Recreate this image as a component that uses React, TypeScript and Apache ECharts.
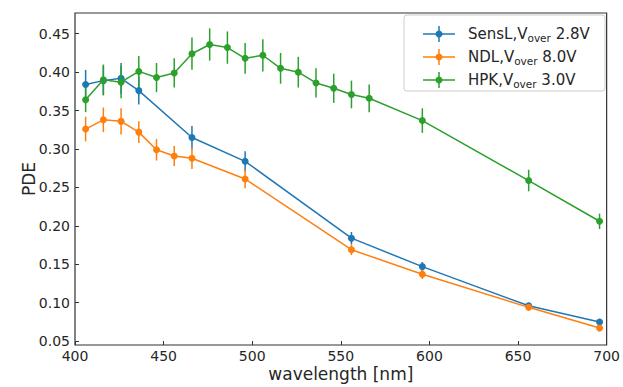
import React, { useEffect, useRef } from "react";
import * as echarts from "echarts";

const FONT = "DejaVu Sans";
const TXT = "#262626";

const xTicks = [400, 450, 500, 550, 600, 650, 700];
const yTicks = [0.05, 0.1, 0.15, 0.2, 0.25, 0.3, 0.35, 0.4, 0.45];

const wlSensL = [406, 416, 426, 436, 466, 496, 556, 596, 656, 696];
const pdeSensL = [0.384, 0.389, 0.392, 0.376, 0.315, 0.284, 0.184, 0.147, 0.096, 0.075];
const errSensL = [0.019, 0.019, 0.02, 0.018, 0.015, 0.013, 0.008, 0.006, 0.004, 0.004];

const wlNDL = [406, 416, 426, 436, 446, 456, 466, 496, 556, 596, 656, 696];
const pdeNDL = [0.326, 0.338, 0.336, 0.322, 0.299, 0.291, 0.288, 0.261, 0.169, 0.137, 0.094, 0.067];
const errNDL = [0.016, 0.016, 0.017, 0.014, 0.014, 0.013, 0.014, 0.012, 0.007, 0.006, 0.004, 0.004];

const wlHPK = [406, 416, 426, 436, 446, 456, 466, 476, 486, 496, 506, 516, 526, 536, 546, 556, 566, 596, 656, 696];
const pdeHPK = [0.364, 0.39, 0.387, 0.401, 0.393, 0.399, 0.424, 0.436, 0.432, 0.418, 0.422, 0.405, 0.4, 0.386, 0.379, 0.371, 0.366, 0.337, 0.259, 0.206];
const errHPK = [0.016, 0.02, 0.021, 0.02, 0.019, 0.019, 0.021, 0.021, 0.021, 0.02, 0.021, 0.02, 0.02, 0.019, 0.019, 0.018, 0.018, 0.016, 0.014, 0.01];

const seriesDefs = [
  { name: "SensL", sub: "over", volt: " 2.8V", label: "SensL,V", color: "#1f77b4", wl: wlSensL, pde: pdeSensL, err: errSensL },
  { name: "NDL", sub: "over", volt: " 8.0V", label: "NDL,V", color: "#ff7f0e", wl: wlNDL, pde: pdeNDL, err: errNDL },
  { name: "HPK", sub: "over", volt: " 3.0V", label: "HPK,V", color: "#2ca02c", wl: wlHPK, pde: pdeHPK, err: errHPK },
];

export default function App() {
  const ref = useRef<HTMLDivElement>(null);
  useEffect(() => {
    if (!ref.current) return;
    const chart = echarts.init(ref.current, undefined, { renderer: "svg" });
    const series: any[] = [];
    seriesDefs.forEach((s, i) => {
      series.push({
        type: "custom",
        name: s.name + "_err",
        coordinateSystem: "cartesian2d",
        z: 2 + i * 2,
        data: s.wl.map((x, k) => [x, s.pde[k], s.err[k]]),
        encode: { x: 0, y: 1 },
        renderItem: (params: any, api: any) => {
          const x = api.value(0);
          const y = api.value(1);
          const e = api.value(2);
          const p1 = api.coord([x, y - e]);
          const p2 = api.coord([x, y + e]);
          return {
            type: "line",
            shape: { x1: p1[0], y1: p1[1], x2: p2[0], y2: p2[1] },
            style: { stroke: s.color, lineWidth: 1.5 },
          };
        },
        silent: true,
      });
      series.push({
        type: "line",
        name: s.name,
        z: 3 + i * 2,
        data: s.wl.map((x, k) => [x, s.pde[k]]),
        symbol: "circle",
        symbolSize: 7,
        showSymbol: true,
        lineStyle: { color: s.color, width: 1.5 },
        itemStyle: { color: s.color },
        silent: true,
      });
    });

    const legendGraphics: any[] = [
      {
        type: "rect",
        shape: { x: 404, y: 15, width: 201, height: 76, r: 3 },
        style: { fill: "rgba(255,255,255,0.8)", stroke: "#cccccc", lineWidth: 1 },
        z: 100,
      },
    ];
    seriesDefs.forEach((s, i) => {
      const cy = 34 + i * 23;
      legendGraphics.push(
        { type: "line", shape: { x1: 423, y1: cy, x2: 455, y2: cy }, style: { stroke: s.color, lineWidth: 1.5 }, z: 101 },
        { type: "line", shape: { x1: 439, y1: cy - 8, x2: 439, y2: cy + 8 }, style: { stroke: s.color, lineWidth: 1.5 }, z: 101 },
        { type: "circle", shape: { cx: 439, cy, r: 3.5 }, style: { fill: s.color }, z: 102 },
        {
          type: "text",
          x: 468,
          y: cy,
          z: 102,
          style: {
            text: `{a|${s.label}}{s|${s.sub}}{a|${s.volt}}`,
            verticalAlign: "middle",
            align: "left",
            rich: {
              a: { fontSize: 15, fontFamily: FONT, fill: TXT, color: TXT, lineHeight: 18 },
              s: { fontSize: 10.5, fontFamily: FONT, fill: TXT, color: TXT, lineHeight: 10, verticalAlign: "bottom" },
            },
          },
        }
      );
    });

    chart.setOption({
      animation: false,
      backgroundColor: "#ffffff",
      grid: {
        left: 75,
        right: 14,
        top: 13,
        bottom: 41.5,
        show: true,
        borderColor: "#333333",
        borderWidth: 1.2,
        backgroundColor: "transparent",
      },
      xAxis: {
        type: "value",
        min: 400,
        max: 700,
        interval: 50,
        name: "wavelength [nm]",
        nameLocation: "middle",
        nameGap: 20,
        nameMoveOverlap: false,
        nameTextStyle: { fontFamily: FONT, fontSize: 17, color: TXT, verticalAlign: "top" },
        axisLine: { show: false },
        axisTick: { show: true, inside: true, length: 4, lineStyle: { color: "#333", width: 1 } },
        axisLabel: { fontFamily: FONT, fontSize: 14, color: TXT, margin: 4, customValues: xTicks, formatter: (v: number) => String(v) },
        splitLine: { show: false },
      },
      yAxis: {
        type: "value",
        min: 0.045,
        max: 0.477,
        name: "PDE",
        nameLocation: "middle",
        nameGap: 38,
        nameMoveOverlap: false,
        nameTextStyle: { fontFamily: FONT, fontSize: 17, color: TXT },
        axisLine: { show: false },
        axisTick: { show: true, inside: true, length: 4, customValues: yTicks, lineStyle: { color: "#333", width: 1 } },
        axisLabel: { fontFamily: FONT, fontSize: 14, color: TXT, margin: 5, customValues: yTicks, formatter: (v: number) => v.toFixed(2) },
        splitLine: { show: false },
      },
      series,
      graphic: legendGraphics,
    });
    return () => chart.dispose();
  }, []);
  return <div ref={ref} style={{ position: "fixed", left: 0, top: 0, width: 623, height: 387 }} />;
}
